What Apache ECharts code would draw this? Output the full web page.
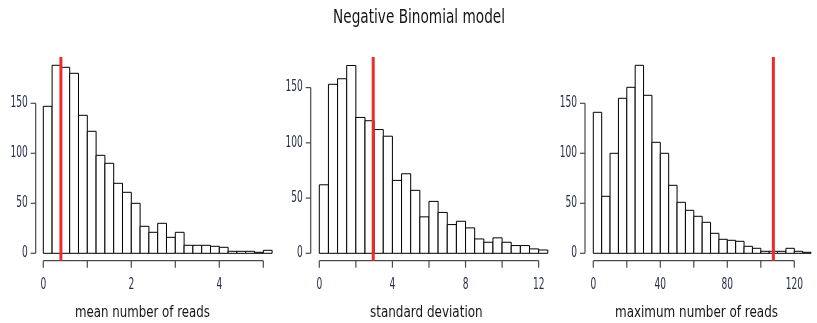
<!DOCTYPE html>
<html>
<head>
<meta charset="utf-8">
<script src="https://cdn.jsdelivr.net/npm/echarts@6/dist/echarts.min.js"></script>
<style>
  html, body { margin: 0; padding: 0; background: #fff; }
  #chart { width: 817px; height: 323px; }
</style>
</head>
<body>
<div id="chart"></div>
<script>
// histogram counts
var meanBin = 0.2;
var meanCounts = [147, 188, 186, 180, 138, 122, 98, 90, 70, 61, 50, 27, 21, 30, 16, 21, 8, 8, 8, 7, 6, 2, 2, 2, 1, 3];
var sdBin = 0.5;
var sdCounts = [62, 153, 158, 170, 123, 120, 112, 106, 66, 72, 57, 33, 47, 37, 26, 29, 23, 13, 10, 14, 10, 7, 7, 4, 3];
var maxBin = 5;
var maxCounts = [141, 57, 100, 155, 166, 188, 158, 111, 100, 68, 51, 43, 37, 31, 20, 14, 13, 12, 7, 5, 2, 2, 2, 5, 2, 1];

// observed values (red lines)
var observed = [0.4, 2.95, 107.5];

// ticks and labels
var yTicks = [0, 50, 100, 150];
var meanTicks = [0, 1, 2, 3, 4, 5];
var meanLabels = [0, 2, 4];
var sdTicks = [0, 2, 4, 6, 8, 10, 12];
var sdLabels = [0, 4, 8, 12];
var maxTicks = [0, 20, 40, 60, 80, 100, 120];
var maxLabels = [0, 40, 80, 120];

var xNames = ['mean number of reads', 'standard deviation', 'maximum number of reads'];
var mainTitle = 'Negative Binomial model';

var FONT_FAMILY = "'DejaVu Sans', sans-serif";
var AXIS_COLOR = '#4a4a4a';
var LABEL_COLOR = '#26304a';

// horizontal squeeze so the text matches the condensed face of the original
var ctx = document.createElement('canvas').getContext('2d');
function squeeze(text, size, target) {
  ctx.font = size + 'px ' + FONT_FAMILY;
  return target / ctx.measureText(text).width;
}
var tickSize = 15;
var tickScale = squeeze('150', tickSize, 17.3);

function toBars(counts, width) {
  return counts.map(function (c, i) { return [i * width, (i + 1) * width, c]; });
}

var panels = [
  { counts: meanCounts, bin: meanBin, ticks: meanTicks, labels: meanLabels, left: 35.7, width: 240.8, xmin: -0.1727, xmax: 5.3, ymin: -7.4, ymax: 196.3, nameX: 142.5, nameW: 135 },
  { counts: sdCounts, bin: sdBin, ticks: sdTicks, labels: sdLabels, left: 310.7, width: 240.75, xmin: -0.47, xmax: 12.7, ymin: -6.7, ymax: 177.7, nameX: 426.3, nameW: 112.7 },
  { counts: maxCounts, bin: maxBin, ticks: maxTicks, labels: maxLabels, left: 585, width: 229.4, xmin: -4.955, xmax: 132, ymin: -7.4, ymax: 196.3, nameX: 696.5, nameW: 163 }
];

var myChart = echarts.init(document.getElementById('chart'));

var grid = [], xAxis = [], yAxis = [], series = [], graphic = [];

panels.forEach(function (p, k) {
  grid.push({ left: p.left, width: p.width, top: 57, height: 203.7 });
  xAxis.push({
    type: 'value', gridIndex: k, min: p.xmin, max: p.xmax,
    axisLine: { show: false }, axisTick: { show: false }, axisLabel: { show: false }, splitLine: { show: false }
  });
  yAxis.push({
    type: 'value', gridIndex: k, min: p.ymin, max: p.ymax,
    axisLine: { show: false }, axisTick: { show: false }, axisLabel: { show: false }, splitLine: { show: false }
  });

  // histogram bars
  series.push({
    type: 'custom', xAxisIndex: k, yAxisIndex: k,
    data: toBars(p.counts, p.bin),
    renderItem: function (params, api) {
      var a = api.coord([api.value(0), api.value(2)]);
      var b = api.coord([api.value(1), 0]);
      return {
        type: 'rect',
        shape: { x: a[0], y: a[1], width: b[0] - a[0], height: b[1] - a[1] },
        style: { fill: '#fff', stroke: '#000', lineWidth: 1 }
      };
    }
  });

  // R-style axes: line from first to last tick, outward ticks, condensed labels
  series.push({
    type: 'custom', xAxisIndex: k, yAxisIndex: k, silent: true,
    data: [[0]],
    renderItem: function (params, api) {
      var cs = params.coordSys;
      var by = cs.y + cs.height;
      var lx = cs.x;
      var kids = [];
      var lineStyle = { stroke: AXIS_COLOR, lineWidth: 1.2 };
      var xa = api.coord([p.ticks[0], 0])[0];
      var xb = api.coord([p.ticks[p.ticks.length - 1], 0])[0];
      kids.push({ type: 'line', shape: { x1: xa, y1: by, x2: xb, y2: by }, style: lineStyle });
      p.ticks.forEach(function (t) {
        var x = api.coord([t, 0])[0];
        kids.push({ type: 'line', shape: { x1: x, y1: by, x2: x, y2: by + 7 }, style: lineStyle });
      });
      p.labels.forEach(function (t) {
        var x = api.coord([t, 0])[0];
        kids.push({
          type: 'text', x: x, y: 285, scaleX: tickScale,
          style: { text: String(t), font: tickSize + 'px ' + FONT_FAMILY, fill: LABEL_COLOR, align: 'center', verticalAlign: 'middle' }
        });
      });
      var ya = api.coord([0, yTicks[0]])[1];
      var yb = api.coord([0, yTicks[yTicks.length - 1]])[1];
      kids.push({ type: 'line', shape: { x1: lx, y1: ya, x2: lx, y2: yb }, style: lineStyle });
      yTicks.forEach(function (t) {
        var y = api.coord([0, t])[1];
        kids.push({ type: 'line', shape: { x1: lx - 5, y1: y, x2: lx, y2: y }, style: lineStyle });
        kids.push({
          type: 'text', x: lx - 8, y: y, scaleX: tickScale,
          style: { text: String(t), font: tickSize + 'px ' + FONT_FAMILY, fill: LABEL_COLOR, align: 'right', verticalAlign: 'middle' }
        });
      });
      return { type: 'group', children: kids };
    }
  });

  // observed value line
  series.push({
    type: 'custom', xAxisIndex: k, yAxisIndex: k, silent: true, z: 5,
    data: [[observed[k]]],
    renderItem: function (params, api) {
      var cs = params.coordSys;
      var x = api.coord([api.value(0), 0])[0];
      return {
        type: 'line',
        shape: { x1: x, y1: cs.y, x2: x, y2: cs.y + cs.height },
        style: { stroke: '#ee2a2e', lineWidth: 3 }
      };
    }
  });

  graphic.push({
    type: 'text', x: p.nameX, y: 313, scaleX: squeeze(xNames[k], 16, p.nameW),
    style: { text: xNames[k], font: '16px ' + FONT_FAMILY, fill: '#151515', align: 'center', verticalAlign: 'middle' }
  });
});

graphic.push({
  type: 'text', x: 419, y: 18, scaleX: squeeze(mainTitle, 20, 172),
  style: { text: mainTitle, font: '20px ' + FONT_FAMILY, fill: '#151515', align: 'center', verticalAlign: 'middle' }
});

var option = {
  animation: false,
  grid: grid,
  xAxis: xAxis,
  yAxis: yAxis,
  series: series,
  graphic: graphic
};

myChart.setOption(option);
</script>
</body>
</html>
